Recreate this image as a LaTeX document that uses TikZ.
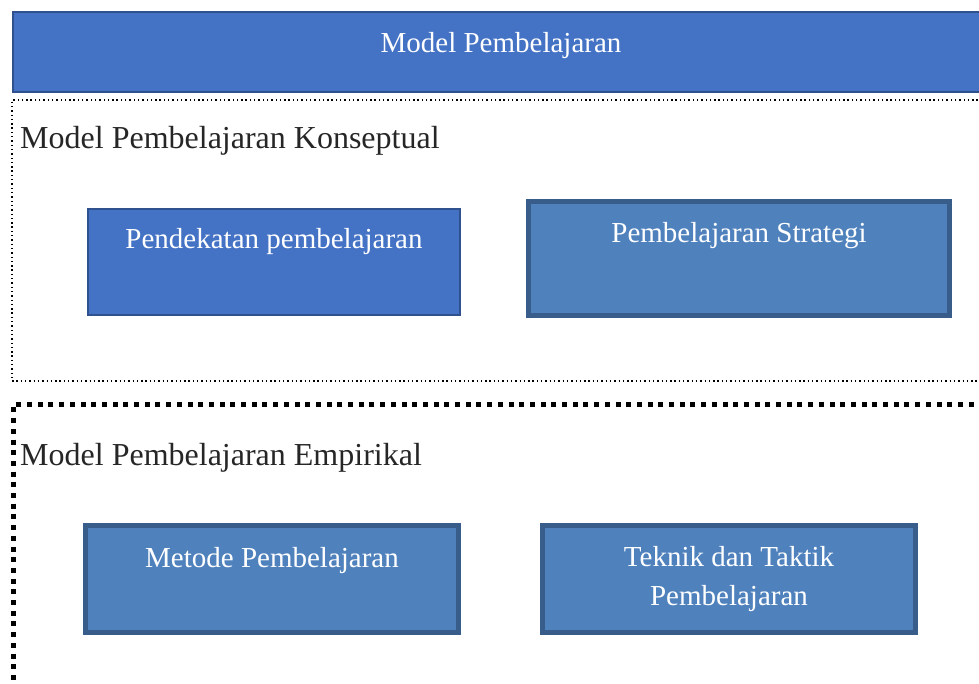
\documentclass[tikz,border=0pt]{standalone}
\usepackage{fontspec}
\setmainfont{Liberation Serif}
\usetikzlibrary{positioning}

\definecolor{topblue}{HTML}{4472C4}
\definecolor{topedge}{HTML}{2F528F}
\definecolor{boxblue}{HTML}{4F81BD}
\definecolor{boxedge}{HTML}{385D8A}

\tikzset{
  thinbox/.style={draw=topedge, fill=topblue, line width=2pt, inner sep=0pt, outer sep=0pt, anchor=north west},
  thickbox/.style={draw=boxedge, fill=boxblue, line width=5pt, inner sep=0pt, outer sep=0pt, anchor=north west},
  boxtext/.style={text=white, font=\fontsize{29}{39}\selectfont, align=center, inner sep=0pt},
  grouptext/.style={text=black!85, font=\fontsize{32}{38}\selectfont, anchor=west, inner sep=0pt},
}

\begin{document}
\begin{tikzpicture}[x=1pt, y=-1pt]

    % page frame
    \useasboundingbox (0,0) rectangle (979,683);
    \clip (0,0) rectangle (979,683);

    % top bar
    \node[thinbox, minimum width=990pt, minimum height=80pt] (model) at (13,12) {};
    \node[boxtext] (modeltxt) at (501,46) {Model Pembelajaran};

    % conceptual group (fine dots)
    \draw[line width=1.4pt, dash pattern=on 1.4pt off 2.9pt] (995,100) -| (12,381) -- (995,381);
    \node[grouptext] (konsep) at (20,141) {Model Pembelajaran Konseptual};

    \node[thinbox, minimum width=372pt, minimum height=106pt] (pend) at (88,209) {};
    \node[boxtext] at ([yshift=-33pt]pend.north) {Pendekatan pembelajaran};

    \node[thickbox, minimum width=421pt, minimum height=114pt] (strat) at (528.5,201.5) {};
    \node[boxtext] at ([yshift=-34pt]strat.north) {Pembelajaran Strategi};

    % empirical group (big square dots)
    \draw[line width=5pt, dash pattern=on 5pt off 5.7pt] (995,404.5) -| (13.5,700);
    \node[grouptext] (empiri) at (20,458) {Model Pembelajaran Empirikal};

    \node[thickbox, minimum width=373pt, minimum height=107pt] (metode) at (85.5,525.5) {};
    \node[boxtext] at ([yshift=-35pt]metode.north) {Metode Pembelajaran};

    \node[thickbox, minimum width=373pt, minimum height=107pt] (teknik) at (542.5,525.5) {};
    \node[boxtext, anchor=north] at ([yshift=-21pt]teknik.north) {Teknik dan Taktik\\Pembelajaran};

\end{tikzpicture}
\end{document}
